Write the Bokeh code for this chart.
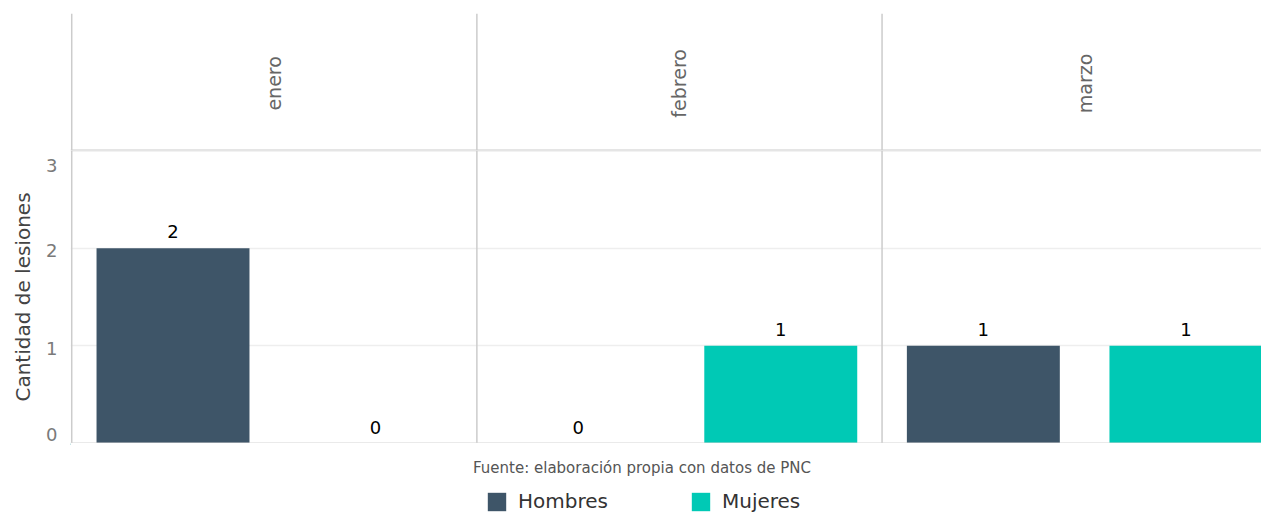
import math
from bokeh.plotting import figure
from bokeh.layouts import column
from bokeh.models import (ColumnDataSource, Range1d, FixedTicker, LabelSet,
                          Legend, LegendItem, Span)
from bokeh.core.properties import value
from bokeh.embed import file_html
from bokeh.resources import INLINE

# ---- data ----
months = ["enero", "febrero", "marzo"]
series = ["Hombres", "Mujeres"]
hombres = [2, 0, 1]
mujeres = [0, 1, 1]
y_ticks = [0, 1, 2, 3]
y_title = "Cantidad de lesiones"
caption = "Fuente: elaboración propia con datos de PNC"

# ---- style ----
colors = ["#3e5568", "#00c9b5"]
FONT = "DejaVu Sans"
W = 1261
PLOT_H = 293                      # height of the bar panels (px)
Y_MAX = 3
tick_label_shift_px = [-9.5, 2.5, 2, 15]   # label placement tweaks (px, + = down)
grid_col = "#cccccc"

x_rng = Range1d(-0.506, 5.373)
n_series = len(series)
bx = [m_idx * n_series - 0.5 for m_idx in range(len(months))]

# ---- facet strip row ----
s = figure(width=W, height=150, output_backend="svg", toolbar_location=None,
           x_range=x_rng, y_range=Range1d(0, 1),
           x_axis_location=None, y_axis_location=None,
           min_border_left=70, min_border_right=0, min_border_top=13,
           min_border_bottom=0, outline_line_color=None, border_fill_color="white")
s.xgrid.grid_line_color = None
s.ygrid.grid_line_color = None
strip_x = [m_idx * n_series + (n_series - 1) / 2 for m_idx in range(len(months))]
s.text(x=strip_x, y=[0.49] * len(months), text=months, angle=math.pi / 2,
       text_align="center", text_baseline="middle", text_font=value(FONT),
       text_font_size="19px", text_color="#666666")
s.segment(x0=bx, y0=[0] * len(bx), x1=bx, y1=[1] * len(bx),
          line_color=grid_col, line_width=1.5)
s.add_layout(Span(location=0, dimension="width", line_color=grid_col, line_width=2))

# ---- bar panels ----
p = figure(width=W, height=PLOT_H, output_backend="svg", toolbar_location=None,
           x_range=x_rng, y_range=Range1d(0, Y_MAX),
           x_axis_location=None, min_border_left=70, min_border_right=0,
           min_border_top=0, min_border_bottom=0, outline_line_color=None,
           background_fill_color="white", border_fill_color="white")

for s_idx, (name, vals) in enumerate(zip(series, [hombres, mujeres])):
    xs = [m_idx * n_series + s_idx for m_idx in range(len(months))]
    src = ColumnDataSource(dict(x=xs, top=vals, lbl=[str(v) for v in vals]))
    p.vbar(x="x", top="top", bottom=0, width=0.755, source=src,
           fill_color=colors[s_idx], line_color=None)
    p.add_layout(LabelSet(x="x", y="top", text="lbl", source=src, y_offset=10,
                          text_align="center", text_baseline="alphabetic",
                          text_font=value(FONT), text_font_size="18px",
                          text_color="black"))

p.segment(x0=bx, y0=[0] * len(bx), x1=bx, y1=[Y_MAX] * len(bx),
          line_color=grid_col, line_width=1.5)
p.add_layout(Span(location=Y_MAX, dimension="width", line_color=grid_col, line_width=1.5))
p.add_layout(Span(location=0, dimension="width", line_color="#d6d6d6", line_width=2))

# y axis: labels for 0..3, nudged like the original
px_per_unit = PLOT_H / Y_MAX
label_pos = [t - d / px_per_unit for t, d in zip(y_ticks, tick_label_shift_px)]
p.yaxis.ticker = FixedTicker(ticks=label_pos)
p.yaxis.major_label_overrides = {lp: str(t) for lp, t in zip(label_pos, y_ticks)}
p.ygrid.ticker = FixedTicker(ticks=y_ticks)
p.yaxis.axis_line_color = None
p.yaxis.major_tick_line_color = None
p.yaxis.minor_tick_line_color = None
p.yaxis.major_tick_out = 0
p.yaxis.major_tick_in = 0
p.yaxis.major_label_standoff = 13
p.yaxis.major_label_text_font = FONT
p.yaxis.major_label_text_font_size = "18px"
p.yaxis.major_label_text_color = "#7a7a7a"
p.yaxis.axis_label = y_title
p.yaxis.axis_label_text_font = FONT
p.yaxis.axis_label_text_font_size = "20px"
p.yaxis.axis_label_text_font_style = "normal"
p.yaxis.axis_label_text_color = "#444444"
p.yaxis.axis_label_standoff = 8
p.xgrid.grid_line_color = None
p.ygrid.grid_line_color = "#eeeeee"
p.ygrid.grid_line_width = 1.5

# ---- caption + legend strip ----
f = figure(width=W, height=70, output_backend="svg", toolbar_location=None,
           x_range=Range1d(70, W), y_range=Range1d(70, 0),
           x_axis_location=None, y_axis_location=None,
           min_border_left=70, min_border_right=0, min_border_top=0, min_border_bottom=0,
           outline_line_color=None, border_fill_color="white")
f.xgrid.grid_line_color = None
f.ygrid.grid_line_color = None
f.text(x=[641.5], y=[24], text=[caption], text_align="center",
       text_baseline="middle", text_font=value(FONT), text_font_size="15px",
       text_color="#555555")
offscreen = ColumnDataSource(dict(x=[-1000], top=[1]))
leg_r = [f.vbar(x="x", top="top", width=1, source=offscreen, fill_color=c, line_color=None)
         for c in colors]
legend = Legend(items=[LegendItem(label=sn, renderers=[r]) for sn, r in zip(series, leg_r)],
                orientation="horizontal", location=(415, 0),
                glyph_width=23, glyph_height=23, label_standoff=10, spacing=81,
                padding=0, margin=0, border_line_color=None,
                background_fill_alpha=0, label_text_font=FONT,
                label_text_font_size="20px", label_text_color="#333333")
f.add_layout(legend)

layout = column(s, p, f, spacing=0)
open("out.html", "w").write(file_html(layout, INLINE))
